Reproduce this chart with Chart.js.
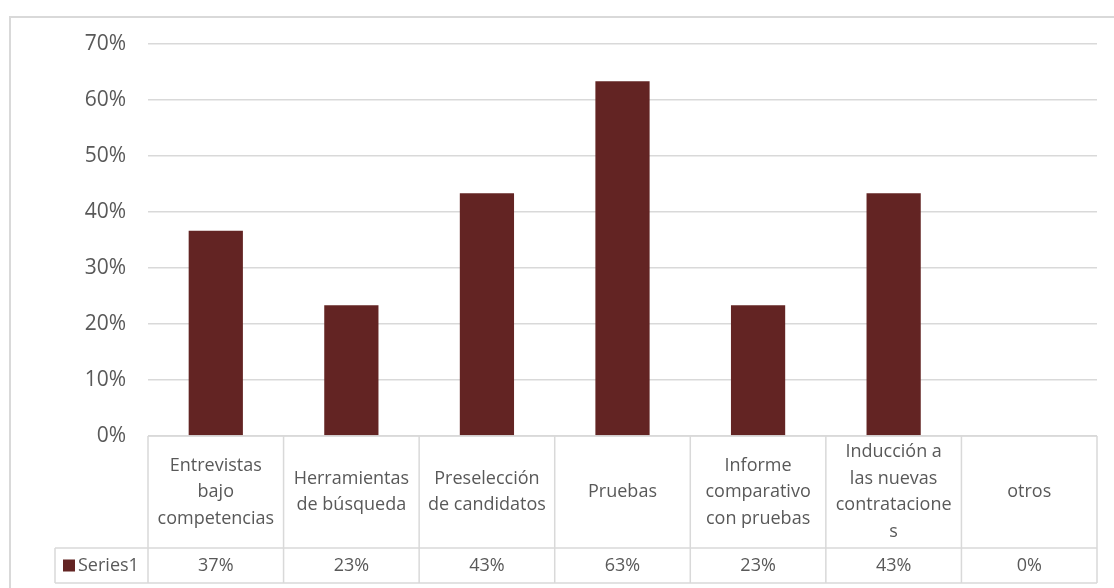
<!DOCTYPE html>
<html lang="es">
<head>
<meta charset="utf-8">
<title>Series1</title>
<script src="https://cdn.jsdelivr.net/npm/chart.js@4.4.1/dist/chart.umd.min.js"></script>
<style>
  html, body { margin: 0; padding: 0; background: #ffffff; }
  #wrap { position: relative; width: 1114px; height: 588px; }
</style>
</head>
<body>
<div id="wrap"><canvas id="chart" width="1114" height="588"></canvas></div>
<script>
// Categories as they wrap inside the data table cells
const categories = [
    ['Entrevistas', 'bajo', 'competencias'],
    ['Herramientas', 'de búsqueda'],
    ['Preselección', 'de candidatos'],
    ['Pruebas'],
    ['Informe', 'comparativo', 'con pruebas'],
    ['Inducción a', 'las nuevas', 'contratacione', 's'],
    ['otros']
];
const seriesName = 'Series1';
const seriesValues = [0.3667, 0.2333, 0.4333, 0.6333, 0.2333, 0.4333, 0];
const yTickLabels = ['0%', '10%', '20%', '30%', '40%', '50%', '60%', '70%'];

const BAR_COLOR = '#632423';
const TEXT_COLOR = '#595959';
const LINE_COLOR = '#d9d9d9';
const FONT = '"Open Sans", sans-serif';

function pct(v) {
    return Math.round(v * 100) + '%';
}

// Frame around the chart plus the data table under the plot
const dataTable = {
    id: 'dataTable',
    beforeDraw(chart) {
        const ctx = chart.ctx;
        ctx.save();
        ctx.strokeStyle = LINE_COLOR;
        ctx.lineWidth = 2;
        ctx.strokeRect(10, 17, chart.width + 10, chart.height + 10);
        ctx.restore();
    },
    afterDraw(chart) {
        const { ctx, chartArea, scales } = chart;
        const x = scales.x;
        const n = categories.length;
        const colW = (chartArea.right - chartArea.left) / n;
        const top = chartArea.bottom;
        const mid = top + 112;
        const bottom = mid + 35;
        const legendLeft = 55;

        ctx.save();
        ctx.strokeStyle = LINE_COLOR;
        ctx.lineWidth = 1.5;
        ctx.beginPath();
        // horizontal rules
        ctx.moveTo(chartArea.left, top);
        ctx.lineTo(chartArea.right, top);
        ctx.moveTo(legendLeft, mid);
        ctx.lineTo(chartArea.right, mid);
        ctx.moveTo(legendLeft, bottom);
        ctx.lineTo(chartArea.right, bottom);
        // vertical rules
        ctx.moveTo(legendLeft, mid);
        ctx.lineTo(legendLeft, bottom);
        for (let i = 0; i <= n; i++) {
            const xx = x.getPixelForValue(i) - colW / 2;
            ctx.moveTo(xx, top);
            ctx.lineTo(xx, bottom);
        }
        ctx.stroke();

        ctx.fillStyle = TEXT_COLOR;
        ctx.textAlign = 'center';
        ctx.textBaseline = 'middle';
        ctx.font = '18px ' + FONT;
        const lineH = 26.5;
        const rowMid = (top + mid) / 2;
        categories.forEach((lines, i) => {
            const cx = x.getPixelForValue(i);
            const y0 = rowMid - (lines.length - 1) * lineH / 2;
            lines.forEach((t, j) => ctx.fillText(t, cx, y0 + j * lineH));
        });

        const valMid = (mid + bottom) / 2;
        seriesValues.forEach((v, i) => {
            ctx.fillText(pct(v), x.getPixelForValue(i), valMid);
        });

        // legend key
        ctx.fillStyle = BAR_COLOR;
        ctx.fillRect(63, valMid - 6, 12, 12);
        ctx.fillStyle = TEXT_COLOR;
        ctx.textAlign = 'left';
        ctx.fillText(seriesName, 78, valMid);
        ctx.restore();
    }
};

new Chart(document.getElementById('chart'), {
    type: 'bar',
    data: {
        labels: categories.map(c => c.join(' ')),
        datasets: [{
            label: seriesName,
            data: seriesValues,
            backgroundColor: BAR_COLOR,
            categoryPercentage: 1,
            barPercentage: 0.4
        }]
    },
    options: {
        responsive: false,
        animation: false,
        layout: { padding: { top: 44, right: 17, bottom: 152, left: 0 } },
        plugins: {
            legend: { display: false },
            tooltip: { enabled: false }
        },
        scales: {
            x: { display: false },
            y: {
                min: 0,
                max: 0.7,
                border: { display: false },
                grid: { color: LINE_COLOR, lineWidth: 1.5, drawTicks: false },
                ticks: {
                    stepSize: 0.1,
                    padding: 22,
                    color: TEXT_COLOR,
                    font: { family: FONT, size: 21 },
                    callback: (v, i) => yTickLabels[i]
                },
                afterFit(scale) { scale.width = 148; }
            }
        }
    },
    plugins: [dataTable]
});
</script>
</body>
</html>
